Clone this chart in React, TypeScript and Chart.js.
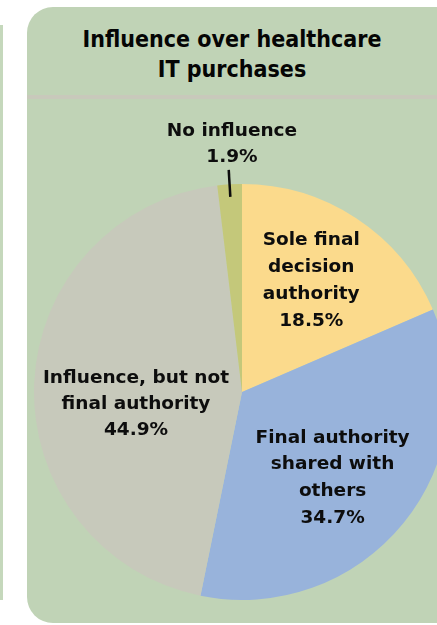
import React, { useEffect, useRef } from "react";
import { Chart, registerables } from "chart.js";

Chart.register(...registerables);

const titleLines = ["Influence over healthcare", "IT purchases"];
const categories = [
  "Sole final decision authority",
  "Final authority shared with others",
  "Influence, but not final authority",
  "No influence",
];
const labelLines = [
  ["Sole final", "decision", "authority"],
  ["Final authority", "shared with", "others"],
  ["Influence, but not", "final authority"],
  ["No influence"],
];
const values = [18.5, 34.7, 44.9, 1.9];
const sliceColors = ["#FBDA8C", "#98B3DB", "#C7C9BB", "#C4C87A"];

// label placement (fraction of radius, angle nudge in degrees, line height)
const labelPlacement = [
  { frac: 0.63, nudge: -1.4, lh: 27, leader: false },
  { frac: 0.6, nudge: 4.4, lh: 26.7, leader: false },
  { frac: 0.513, nudge: -8.8, lh: 26, leader: false },
  { frac: 1.19, nudge: 1.1, lh: 26, leader: true },
];

const labelPlugin = {
  id: "sliceLabels",
  afterDatasetsDraw(chart: any) {
    const ctx = chart.ctx;
    const meta = chart.getDatasetMeta(0);
    ctx.save();
    ctx.font = "bold 18.5px 'DejaVu Sans'";
    ctx.fillStyle = "#0d0d0d";
    ctx.textAlign = "center";
    ctx.textBaseline = "middle";
    meta.data.forEach((arc: any, i: number) => {
      const p = arc.getProps(["x", "y", "startAngle", "endAngle", "outerRadius"], true);
      const pl = labelPlacement[i];
      const mid = (p.startAngle + p.endAngle) / 2;
      const ang = mid + (pl.nudge * Math.PI) / 180;
      const cx = p.x + Math.cos(ang) * p.outerRadius * pl.frac;
      const cy = p.y + Math.sin(ang) * p.outerRadius * pl.frac;
      const lines = [...labelLines[i], values[i].toFixed(1) + "%"];
      const top = cy - ((lines.length - 1) * pl.lh) / 2;
      lines.forEach((t, k) => ctx.fillText(t, cx, top + k * pl.lh));
      if (pl.leader) {
        ctx.strokeStyle = "#0d0d0d";
        ctx.lineWidth = 2.5;
        ctx.beginPath();
        ctx.moveTo(p.x + Math.cos(mid) * p.outerRadius * 0.94, p.y + Math.sin(mid) * p.outerRadius * 0.94);
        ctx.lineTo(p.x + Math.cos(mid) * p.outerRadius * 1.07, p.y + Math.sin(mid) * p.outerRadius * 1.07);
        ctx.stroke();
      }
    });
    ctx.restore();
  },
};

export default function App() {
  const ref = useRef<HTMLCanvasElement>(null);
  useEffect(() => {
    if (!ref.current) return;
    const chart = new Chart(ref.current, {
      type: "pie",
      data: {
        labels: categories,
        datasets: [
          {
            data: values,
            backgroundColor: sliceColors,
            borderWidth: 0,
          },
        ],
      },
      options: {
        responsive: false,
        animation: false,
        layout: { padding: { left: 7, right: 7, top: 84, bottom: 23 } },
        plugins: {
          legend: { display: false },
          tooltip: { enabled: false },
        },
        events: [],
      },
      plugins: [labelPlugin],
    });
    return () => chart.destroy();
  }, []);

  return (
    <div style={{ position: "absolute", left: 0, top: 0, width: 437, height: 625, overflow: "hidden", background: "#ffffff" }}>
      <div style={{ position: "absolute", left: 0, top: 25, width: 3, height: 575, background: "#C5D8BC" }} />
      <div
        style={{
          position: "absolute",
          left: 27,
          top: 7,
          width: 410,
          height: 616,
          background: "#C0D3B6",
          borderTopLeftRadius: 26,
          borderBottomLeftRadius: 26,
          overflow: "hidden",
        }}
      >
        <div
          style={{
            position: "absolute",
            left: 0,
            top: 17,
            width: 410,
            textAlign: "center",
            fontFamily: "'DejaVu Sans Condensed', 'DejaVu Sans'",
            fontWeight: "bold",
            fontSize: 23,
            lineHeight: "30px",
            color: "#050505",
          }}
        >
          {titleLines.map((t) => (
            <div key={t}>{t}</div>
          ))}
        </div>
        <div style={{ position: "absolute", left: 0, top: 88, width: 410, height: 4, background: "#C8C9BB" }} />
        <canvas
          ref={ref}
          width={430}
          height={523}
          style={{ position: "absolute", left: 0, top: 93, width: 430, height: 523 }}
        />
      </div>
    </div>
  );
}
